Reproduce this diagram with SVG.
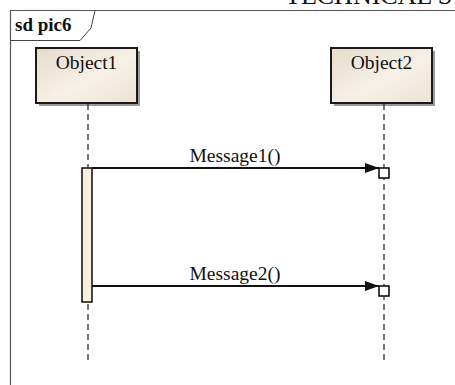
<svg xmlns="http://www.w3.org/2000/svg" width="455" height="385" viewBox="0 0 455 385">
  <defs>
    <linearGradient id="objFill" x1="0" y1="0" x2="1" y2="1">
      <stop offset="0" stop-color="#e6dccb"/>
      <stop offset="0.55" stop-color="#f6f0e6"/>
      <stop offset="1" stop-color="#ece3d4"/>
    </linearGradient>
    <marker id="arrow" markerWidth="14" markerHeight="10" refX="14" refY="5" orient="auto" markerUnits="userSpaceOnUse">
      <path d="M0,0 L14,5 L0,10 z" fill="#111"/>
    </marker>
  </defs>
  <style>
    .serif { font-family: "Liberation Serif", "Times New Roman", serif; fill: #111; }
    .obj { fill: url(#objFill); stroke: #1a1a1a; stroke-width: 2; }
    .shadow { fill: #9a9a9a; }
    .life { stroke: #333; stroke-width: 1.3; stroke-dasharray: 6 4; fill: none; }
    .msg { stroke: #111; stroke-width: 2; fill: none; }
    .end { fill: #fff; stroke: #111; stroke-width: 1.6; }
  </style>
  <rect width="455" height="385" fill="#fff"/>

  <!-- page heading, clipped at top edge -->
  <text class="serif" x="285" y="4" font-size="26">TECHNICAL S</text>

  <!-- sequence diagram frame -->
  <g id="frame">
    <path d="M10.5,385 V10.5 H455" fill="none" stroke="#555" stroke-width="1.2"/>
    <path d="M10.5,40.5 H80 L91,28 L95,10.5" fill="none" stroke="#444" stroke-width="1"/>
    <text class="serif" x="15" y="31" font-size="19" font-weight="bold">sd pic6</text>
  </g>

  <g id="object1">
    <rect class="shadow" x="39" y="51" width="101" height="55"/>
    <rect class="obj" x="36" y="48" width="101" height="55"/>
    <text class="serif" x="86.5" y="69" font-size="19.5" text-anchor="middle">Object1</text>
    <line class="life" x1="88" y1="104" x2="88" y2="364"/>
    <rect id="activation1" x="82" y="168" width="10" height="134" fill="#f7efe0" stroke="#1a1a1a" stroke-width="1.6"/>
  </g>

  <g id="object2">
    <rect class="shadow" x="334" y="51" width="101" height="55"/>
    <rect class="obj" x="331" y="48" width="101" height="55"/>
    <text class="serif" x="381.5" y="69" font-size="19.5" text-anchor="middle">Object2</text>
    <line class="life" x1="384" y1="104" x2="384" y2="364"/>
  </g>

  <g id="connectors">
    <g id="message1">
      <line class="msg" x1="92" y1="168" x2="379" y2="168" marker-end="url(#arrow)"/>
      <rect class="end" x="379" y="168" width="10" height="10"/>
      <text class="serif" x="235" y="162" font-size="19.5" text-anchor="middle">Message1()</text>
    </g>
    <g id="message2">
      <line class="msg" x1="92" y1="286" x2="379" y2="286" marker-end="url(#arrow)"/>
      <rect class="end" x="379" y="286" width="10" height="10"/>
      <text class="serif" x="235" y="280" font-size="19.5" text-anchor="middle">Message2()</text>
    </g>
  </g>
</svg>
